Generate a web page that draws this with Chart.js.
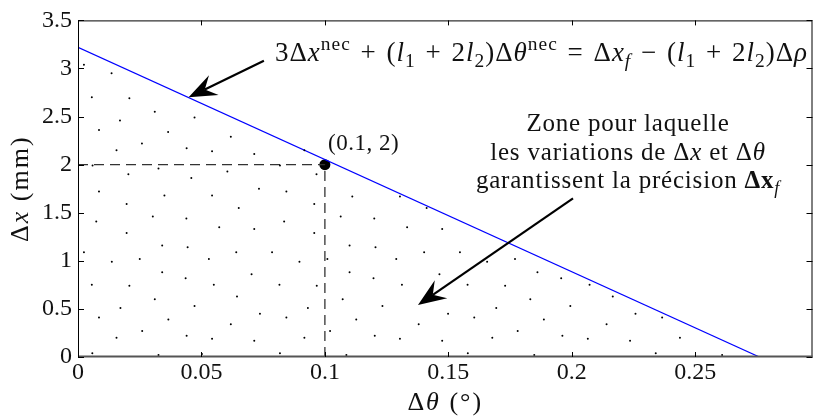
<!DOCTYPE html>
<html>
<head>
<meta charset="utf-8">
<script src="https://cdn.jsdelivr.net/npm/chart.js@4"></script>
<style>
  html, body { margin: 0; padding: 0; background: #fff; }
  #wrap { width: 818px; height: 418px; }
</style>
</head>
<body>
<div id="wrap"><canvas id="zoneChart"></canvas></div>
<script>
// limit line: 3dx + (l1+2l2)dtheta = dx_f - (l1+2l2)drho
const limitX = [0, 0.276];
const limitY = [3.22, 0];

// operating point
const pointX = 0.1;
const pointY = 2;

const xTicks = [0, 0.05, 0.1, 0.15, 0.2, 0.25];
const xTickLabels = ["0", "0.05", "0.1", "0.15", "0.2", "0.25"];
const yTicks = [0, 0.5, 1, 1.5, 2, 2.5, 3, 3.5];
const yTickLabels = ["0", "0.5", "1", "1.5", "2", "2.5", "3", "3.5"];

// dots filling the admissible zone
const dotX = [
  0.0024, 0.0136, 0.0056, 0.0208, 0.0311, 0.0170, 0.0472, 0.0085, 0.0365, 0.0259,
  0.0619, 0.0156, 0.0440, 0.0543, 0.0714, 0.0917, 0.0059, 0.0326, 0.0204, 0.0459,
  0.0605, 0.0818, 0.0966, 0.0085, 0.0350, 0.0543, 0.0733, 0.0844, 0.0197, 0.0651,
  0.0957, 0.0074, 0.0303, 0.0439, 0.0835, 0.0572, 0.0714, 0.0197, 0.0957, 0.0341,
  0.0444, 0.0024, 0.0641, 0.0786, 0.0137, 0.0250, 0.0530, 0.0897, 0.0341, 0.0436,
  0.0703, 0.0056, 0.0208, 0.0550, 0.0816, 0.0967, 0.0311, 0.0644, 0.0172, 0.0472,
  0.0931, 0.0085, 0.0366, 0.0737, 0.0844, 0.0619, 0.0260, 0.0156, 0.0440, 0.0543,
  0.0714, 0.0917, 0.0058, 0.0326, 0.0502, 0.0818, 0.1412, 0.1064, 0.1200, 0.1333,
  0.1475, 0.1100, 0.1205, 0.1010, 0.1289, 0.1402, 0.1547, 0.1657, 0.1770, 0.1100,
  0.1197, 0.1464, 0.1312, 0.1578, 0.1730, 0.1861, 0.1957, 0.1072, 0.1233, 0.1499,
  0.1694, 0.1832, 0.1994, 0.1127, 0.1380, 0.1605, 0.1887, 0.1021, 0.1202, 0.1304,
  0.1475, 0.1678, 0.1781, 0.1962, 0.1087, 0.1579, 0.1848, 0.2072, 0.2166, 0.2258,
  0.2366, 0.2141, 0.2065, 0.2236, 0.2438, 0.2340, 0.2609, 0.1111, 0.1304
];
const dotY = [
  3.04, 2.95, 2.70, 2.69, 2.55, 2.46, 2.49, 2.36, 2.34, 2.22,
  2.29, 2.15, 2.17, 2.14, 2.11, 2.15, 1.99, 1.96, 1.90, 1.86,
  1.93, 1.99, 1.90, 1.72, 1.68, 1.68, 1.75, 1.72, 1.59, 1.55,
  1.59, 1.41, 1.46, 1.44, 1.41, 1.35, 1.33, 1.29, 1.29, 1.16,
  1.14, 1.09, 1.09, 1.09, 0.99, 1.02, 1.02, 0.99, 0.88, 0.82,
  0.86, 0.75, 0.74, 0.75, 0.75, 0.74, 0.60, 0.63, 0.51, 0.53,
  0.51, 0.41, 0.39, 0.45, 0.41, 0.34, 0.27, 0.20, 0.22, 0.19,
  0.17, 0.20, 0.04, 0.02, 0.03, 0.04, 1.55, 1.46, 1.44, 1.35,
  1.33, 1.16, 1.14, 1.02, 1.02, 1.09, 1.09, 0.99, 1.02, 0.88,
  0.82, 0.86, 0.75, 0.75, 0.74, 0.88, 0.82, 0.60, 0.53, 0.45,
  0.51, 0.60, 0.53, 0.39, 0.34, 0.41, 0.39, 0.27, 0.22, 0.19,
  0.17, 0.20, 0.27, 0.22, 0.02, 0.04, 0.02, 0.75, 0.63, 0.45,
  0.41, 0.34, 0.19, 0.17, 0.20, 0.04, 0.02, 1.67, 1.67
];

// arrows: [tailX, tailY, tipX, tipY] in data units
const eqArrow = [0.0753, 3.08, 0.0448, 2.70];
const zoneArrow = [0.2005, 1.65, 0.1377, 0.54];

const SERIF = '"Liberation Serif", "DejaVu Serif", serif';

// draw a row of text runs: {t, i (italic), b (bold), up, dn, g (extra gap px)}
function drawRuns(ctx, runs, x, y, size, align, spacing) {
  const fontOf = r => {
    const s = (r.up || r.dn) ? size * 0.72 : size;
    return (r.i ? "italic " : "") + (r.b ? "bold " : "") + s + "px " + SERIF;
  };
  ctx.letterSpacing = (spacing || 0) + "px";
  const widthOf = r => {
    if (r.g) return r.g;
    ctx.font = fontOf(r);
    return ctx.measureText(r.t).width;
  };
  let total = 0;
  runs.forEach(r => { total += widthOf(r); });
  let cx = align === "center" ? x - total / 2 : x;
  ctx.textAlign = "left";
  ctx.textBaseline = "alphabetic";
  runs.forEach(r => {
    const w = widthOf(r);
    if (!r.g) {
      ctx.font = fontOf(r);
      let dy = 0;
      if (r.up) dy = -size * 0.42;
      if (r.dn) dy = size * 0.22;
      ctx.fillText(r.t, cx, y + dy);
    }
    cx += w;
  });
  ctx.letterSpacing = "0px";
}

function drawArrow(ctx, x1, y1, x2, y2) {
  const ang = Math.atan2(y2 - y1, x2 - x1);
  const len = 28, half = 11, back = 18;
  ctx.save();
  ctx.strokeStyle = "#000";
  ctx.fillStyle = "#000";
  ctx.lineWidth = 2.2;
  ctx.beginPath();
  ctx.moveTo(x1, y1);
  ctx.lineTo(x2 - Math.cos(ang) * back, y2 - Math.sin(ang) * back);
  ctx.stroke();
  ctx.translate(x2, y2);
  ctx.rotate(ang);
  ctx.beginPath();
  ctx.moveTo(0, 0);
  ctx.lineTo(-len, -half);
  ctx.lineTo(-back, 0);
  ctx.lineTo(-len, half);
  ctx.closePath();
  ctx.fill();
  ctx.restore();
}

const decorations = {
  id: "decorations",
  afterDraw(chart) {
    const ctx = chart.ctx;
    const xs = chart.scales.x, ys = chart.scales.y;
    const a = chart.chartArea;
    ctx.save();

    // frame and inward ticks on all four sides
    ctx.strokeStyle = "#000";
    ctx.lineWidth = 1;
    ctx.strokeRect(a.left + 0.5, a.top + 0.5, a.right - a.left - 1, a.bottom - a.top - 1);
    ctx.strokeStyle = "#555";
    ctx.lineWidth = 2;
    ctx.beginPath();
    ctx.moveTo(a.left, a.bottom - 0.5);
    ctx.lineTo(a.right, a.bottom - 0.5);
    ctx.stroke();
    ctx.strokeStyle = "#000";
    ctx.lineWidth = 1;
    ctx.beginPath();
    xTicks.forEach(v => {
      const px = Math.round(xs.getPixelForValue(v)) + 0.5;
      ctx.moveTo(px, a.bottom); ctx.lineTo(px, a.bottom - 5);
      ctx.moveTo(px, a.top); ctx.lineTo(px, a.top + 5);
    });
    yTicks.forEach(v => {
      const py = Math.round(ys.getPixelForValue(v)) + 0.5;
      ctx.moveTo(a.left, py); ctx.lineTo(a.left + 6, py);
      ctx.moveTo(a.right, py); ctx.lineTo(a.right - 6, py);
    });
    ctx.stroke();

    ctx.fillStyle = "#111";
    // axis titles
    drawRuns(ctx, [{t: "Δ"}, {t: "θ", i: true}, {t: " (°)"}],
      (a.left + a.right) / 2, 410, 26, "center", 2);
    ctx.save();
    ctx.translate(28, (a.top + a.bottom) / 2);
    ctx.rotate(-Math.PI / 2);
    drawRuns(ctx, [{t: "Δ"}, {t: "x", i: true}, {t: " (mm)"}], 0, 0, 26, "center", 2);
    ctx.restore();

    // equation of the limit line
    drawRuns(ctx, [
      {t: "3Δ"}, {t: "x", i: true}, {t: "nec", up: true},
      {g: 2}, {t: " + "}, {g: 2}, {t: "("}, {t: "l", i: true}, {t: "1", dn: true},
      {g: 2}, {t: " + "}, {g: 2}, {t: "2"}, {t: "l", i: true}, {t: "2", dn: true},
      {t: ")Δ"}, {t: "θ", i: true}, {t: "nec", up: true},
      {g: 2}, {t: " = "}, {g: 2}, {t: "Δ"}, {t: "x", i: true}, {t: "f", i: true, dn: true},
      {g: 2}, {t: " − "}, {g: 2}, {t: "("}, {t: "l", i: true}, {t: "1", dn: true},
      {g: 2}, {t: " + "}, {g: 2}, {t: "2"}, {t: "l", i: true}, {t: "2", dn: true},
      {t: ")Δ"}, {t: "ρ", i: true}
    ], 275, 61, 27, "left", 1);

    // zone label
    drawRuns(ctx, [{t: "Zone pour laquelle"}], 628, 131, 25, "center", 0.8);
    drawRuns(ctx, [{t: "les variations de Δ"}, {t: "x", i: true}, {t: " et Δ"}, {t: "θ", i: true}],
      628, 160, 25, "center", 0.8);
    drawRuns(ctx, [{t: "garantissent la précision "}, {t: "Δx", b: true}, {t: "f", i: true, dn: true}],
      628, 188, 25, "center", 0.8);

    // point label
    drawRuns(ctx, [{t: "(0.1, 2)"}], 328, 150, 23, "left", 0.5);

    drawArrow(ctx, xs.getPixelForValue(eqArrow[0]), ys.getPixelForValue(eqArrow[1]),
      xs.getPixelForValue(eqArrow[2]), ys.getPixelForValue(eqArrow[3]));
    drawArrow(ctx, xs.getPixelForValue(zoneArrow[0]), ys.getPixelForValue(zoneArrow[1]),
      xs.getPixelForValue(zoneArrow[2]), ys.getPixelForValue(zoneArrow[3]));
    ctx.restore();
  }
};

const ctx = document.getElementById("zoneChart").getContext("2d");

new Chart(ctx, {
  type: "scatter",
  data: {
    datasets: [
      {
        label: "zone",
        data: dotX.map((x, i) => ({ x, y: dotY[i] })),
        pointRadius: 1,
        pointBackgroundColor: "#000",
        pointBorderWidth: 0
      },
      {
        label: "limit",
        type: "line",
        data: limitX.map((x, i) => ({ x, y: limitY[i] })),
        borderColor: "#0000ff",
        borderWidth: 1.2,
        pointRadius: 0
      },
      {
        label: "h dash",
        type: "line",
        data: [{ x: 0, y: pointY }, { x: pointX, y: pointY }],
        borderColor: "#333",
        borderWidth: 1.3,
        borderDash: [10, 6],
        pointRadius: 0
      },
      {
        label: "v dash",
        type: "line",
        data: [{ x: pointX, y: 0 }, { x: pointX, y: pointY }],
        borderColor: "#333",
        borderWidth: 1.3,
        borderDash: [10, 6],
        pointRadius: 0
      },
      {
        label: "point",
        data: [{ x: pointX, y: pointY }],
        pointRadius: 5.5,
        pointBackgroundColor: "#000",
        pointBorderWidth: 0
      }
    ]
  },
  options: {
    responsive: true,
    maintainAspectRatio: false,
    animation: false,
    layout: { padding: { top: 18, right: 1, left: 0, bottom: 0 } },
    plugins: {
      legend: { display: false },
      tooltip: { enabled: false }
    },
    scales: {
      x: {
        type: "linear",
        min: 0,
        max: 0.2975,
        grid: { display: false, drawTicks: false },
        border: { display: false },
        afterFit: s => { s.height = 61; },
        afterBuildTicks: s => { s.ticks = xTicks.map(v => ({ value: v })); },
        ticks: {
          padding: 1,
          color: "#111",
          font: { family: SERIF, size: 24 },
          maxRotation: 0,
          callback: (v) => xTickLabels[xTicks.indexOf(v)]
        }
      },
      y: {
        type: "linear",
        min: 0,
        max: 3.5,
        grid: { display: false, drawTicks: false },
        border: { display: false },
        afterFit: s => { s.width = 78; },
        afterBuildTicks: s => { s.ticks = yTicks.map(v => ({ value: v })); },
        ticks: {
          padding: 6,
          color: "#111",
          font: { family: SERIF, size: 24 },
          callback: (v) => yTickLabels[yTicks.indexOf(v)]
        }
      }
    }
  },
  plugins: [decorations]
});
</script>
</body>
</html>
